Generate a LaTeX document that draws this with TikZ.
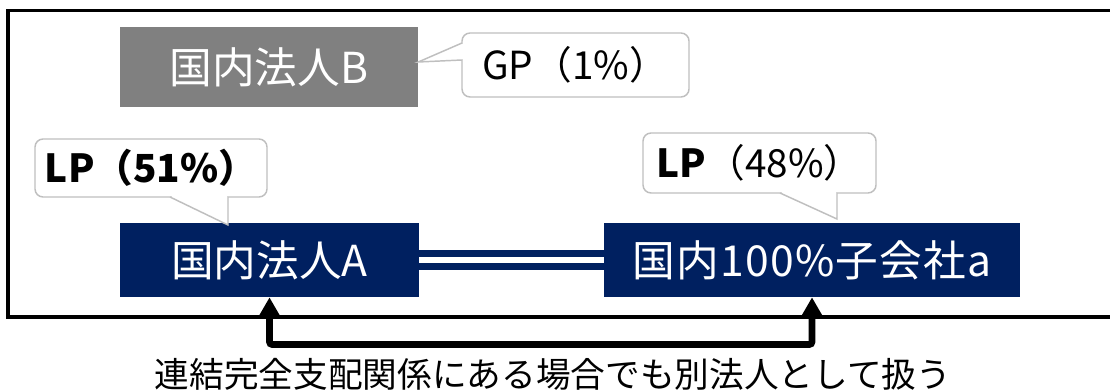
\documentclass[tikz,border=0pt]{standalone}
\usepackage{fontspec}
\newfontfamily\jp{Noto Sans CJK JP}
\usetikzlibrary{arrows.meta}
\definecolor{navy}{HTML}{002060}
\definecolor{boxgray}{HTML}{808080}
\definecolor{cbgray}{HTML}{BFBFBF}
\begin{document}
\begin{tikzpicture}[x=0.75pt,y=-0.75pt,
  ent/.style={inner sep=0pt, text=white, font=\jp\fontsize{32pt}{36pt}\selectfont, minimum height=55.5pt},
  cbody/.style={draw=cbgray, line width=1.1pt, fill=white, rounded corners=6pt},
  cptr/.style={draw=cbgray, line width=1.1pt, fill=white},
  ctext/.style={inner sep=0pt, text=black, font=\jp\fontsize{29pt}{34pt}\selectfont},
  arrline/.style={line width=5pt, rounded corners=2pt, {Triangle[width=17pt,length=16pt]}-{Triangle[width=17pt,length=16pt]}}
]
\useasboundingbox (0,0) rectangle (1110,392);
% outer frame
\draw[line width=2.6pt] (8,10.5) rectangle (1111.3,317);

% entities
\node[ent, fill=boxgray, minimum width=223.5pt, minimum height=60pt] (B) at (269,67) {国内法人B};
\node[ent, fill=navy, minimum width=224.25pt] (A) at (269.5,260) {国内法人A};
\node[ent, fill=navy, minimum width=312pt] (a) at (812,260) {\addfontfeatures{LetterSpace=3}国内100\%子会社a};

% double line
\draw[navy, line width=15pt] (A.east) -- (a.west);
\draw[white, line width=4.8pt] ([xshift=-0.1pt]A.east) -- ([xshift=0.1pt]a.west);

% callout GP
\draw[cbody] (462,33) rectangle (689,97);
\fill[white] (460.5,44.5) rectangle (463.5,59);
\draw[cptr] (462,43) -- (B.east |- 0,62) -- (462,60);
\node[ctext] (gp) at (575,65) {GP（1\%）};

% callout LP 51
\draw[cbody] (35,139) rectangle (267,197);
\fill[white] (171.5,195.5) rectangle (227,198.5);
\draw[cptr] (170,197) -- (228,225) -- (228,197);
\node[ctext] (lpA) at (151,168) {\bfseries LP（51\%）};

% callout LP 48
\draw[cbody] (643,133) rectangle (876,193);
\fill[white] (781.5,191.5) rectangle (836,194.5);
\draw[cptr] (780,193) -- (837,219) -- (837,193);
\node[ctext] (lpa) at (759.5,163) {{\bfseries LP}（48\%）};

% arrow
\draw[arrline] (A.south) -- (A.south |- 0,344.5) -| (a.south);

% caption
\node[inner sep=0pt, font=\jp\fontsize{26pt}{30pt}\selectfont] (cap) at (553,374) {連結完全支配関係にある場合でも別法人として扱う};
\end{tikzpicture}
\end{document}
